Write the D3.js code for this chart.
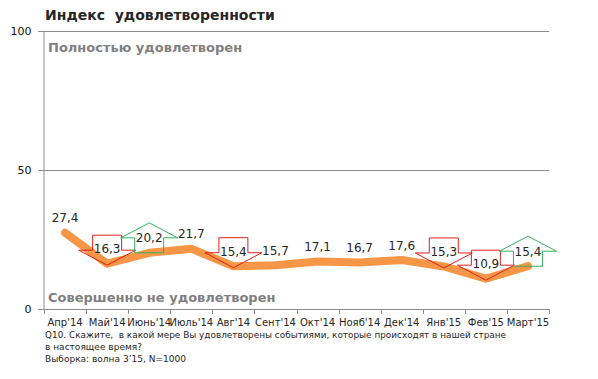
<!DOCTYPE html>
<html><head><meta charset="utf-8">
<script src="https://cdn.jsdelivr.net/npm/d3@7"></script>
<style>body{margin:0;background:#fff}svg{display:block}text{white-space:pre}</style>
</head><body>
<script>
const categories = ["Апр'14","Май'14","Июнь'14","Июль'14","Авг'14","Сент'14","Окт'14","Нояб'14","Дек'14","Янв'15","Фев'15","Март'15"];
const values = [27.4,16.3,20.2,21.7,15.4,15.7,17.1,16.7,17.6,15.3,10.9,15.4];
const valueLabels = ["27,4","16,3","20,2","21,7","15,4","15,7","17,1","16,7","17,6","15,3","10,9","15,4"];
const changeMarks = ["","down","up","","down","","","","","down","down","up"];
const yTicks = [0,50,100];
const title = "Индекс  удовлетворенности";
const topNote = "Полностью удовлетворен";
const bottomNote = "Совершенно не удовлетворен";
const footnotes = ["Q10. Скажите,  в какой мере Вы удовлетворены событиями, которые происходят в нашей стране","в настоящее время?","Выборка: волна 3’15, N=1000"];

const W=598,H=379;
const svg=d3.select("body").append("svg").attr("width",W).attr("height",H);
const x=d3.scaleBand().domain(categories).range([44,549]);
const y=d3.scaleLinear().domain([0,100]).range([309,31]);
const cx=d=>x(d)+x.bandwidth()/2;

svg.append("text").attr("x",45).attr("y",20).text(title)
  .attr("font-family","DejaVu Sans").attr("font-weight","bold").attr("font-size",14).attr("fill","#262626");

// gridlines
svg.append("g").selectAll("line").data(yTicks.filter(t=>t>0)).join("line")
  .attr("x1",39).attr("x2",549).attr("y1",d=>y(d)+0.5).attr("y2",d=>y(d)+0.5)
  .attr("stroke","#8c8c8c").attr("stroke-width",1);

// y axis
const ya=svg.append("g").attr("transform","translate(43.5,0)").call(d3.axisLeft(y).tickValues(yTicks).tickSize(5).tickPadding(7).tickFormat(d3.format("d")));
ya.select(".domain").attr("stroke","#8c8c8c");
ya.selectAll(".tick line").attr("stroke","#8c8c8c");
ya.selectAll("text").attr("font-family","DejaVu Sans").attr("font-size",11).attr("fill","#111");

// x axis
const xa=svg.append("g").attr("transform","translate(0,309.5)").call(d3.axisBottom(x).tickSize(0).tickPadding(9));
xa.select(".domain").attr("stroke","#8c8c8c").attr("d","M44,0H549");
xa.selectAll("text").attr("font-family","DejaVu Sans").attr("font-size",10).attr("fill","#262626");
svg.append("g").selectAll("line").data(categories.concat([null])).join("line")
  .attr("x1",(d,i)=>Math.round(i<categories.length?x(d):x.range()[1])+0.5)
  .attr("x2",(d,i)=>Math.round(i<categories.length?x(d):x.range()[1])+0.5)
  .attr("y1",309).attr("y2",314).attr("stroke","#8c8c8c");

// notes
svg.append("text").attr("x",48).attr("y",52).text(topNote)
  .attr("font-family","DejaVu Sans").attr("font-weight","bold").attr("font-size",13).attr("fill","#7f7f7f");
svg.append("text").attr("x",48).attr("y",302).text(bottomNote)
  .attr("font-family","DejaVu Sans").attr("font-weight","bold").attr("font-size",13).attr("fill","#7f7f7f");

// line
const line=d3.line().x((d,i)=>cx(categories[i])).y(d=>y(d));
svg.append("path").datum(values).attr("d",line).attr("fill","none")
  .attr("stroke","#F79646").attr("stroke-width",8).attr("stroke-linejoin","round").attr("stroke-linecap","round");

// arrows
const arrowData=values.map((v,i)=>({v,i,m:changeMarks[i]})).filter(d=>d.m);
svg.append("g").selectAll("path").data(arrowData).join("path")
  .attr("fill","none").attr("stroke-width",1)
  .attr("stroke",d=>d.m==="down"?"#e0201c":"#33b060")
  .attr("d",d=>{
    const c=cx(categories[d.i]), py=y(d.v);
    const bw=14.5, tw=28.5, h=15;
    if(d.m==="down"){
      const ap=py+1.5, b=ap-h, t=b-h;
      return `M${c},${ap}L${c-tw},${b}H${c-bw}V${t}H${c+bw}V${b}H${c+tw}Z`;
    } else {
      const bot=py, b=bot-h, ap=b-h;
      return `M${c},${ap}L${c+tw},${b}H${c+bw}V${bot}H${c-bw}V${b}H${c-tw}Z`;
    }
  });

// value labels
svg.append("g").selectAll("text").data(values).join("text")
  .attr("x",(d,i)=>cx(categories[i])).attr("y",d=>y(d)-10.5).attr("text-anchor","middle")
  .text((d,i)=>valueLabels[i])
  .attr("font-family","DejaVu Sans").attr("font-size",12).attr("fill","#262626");

// footnotes
const fy=[338,350,362], fl=[461,97,141];
svg.append("g").selectAll("text").data(footnotes).join("text")
  .attr("x",45).attr("y",(d,i)=>fy[i]).text(d=>d)
  .attr("textLength",(d,i)=>fl[i]).attr("lengthAdjust","spacingAndGlyphs")
  .attr("font-family","DejaVu Sans Condensed, DejaVu Sans").attr("font-size",9.5).attr("fill","#262626");
</script>
</body></html>
